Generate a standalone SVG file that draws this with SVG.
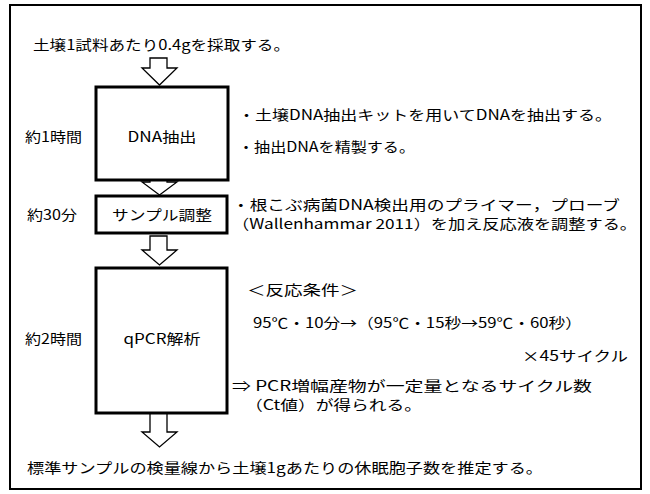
<svg xmlns="http://www.w3.org/2000/svg" width="650" height="494" viewBox="0 0 650 494">
<style>
  text { font-family: "Noto Sans CJK JP", "Liberation Sans", sans-serif; font-size: 14px; fill: #000; }
  .mid { text-anchor: middle; }
  .box { fill: #fff; stroke: #000; stroke-width: 3; }
  .arrow { fill: #fff; stroke: #000; stroke-width: 1.3; stroke-linejoin: miter; }
</style>
<rect width="650" height="494" fill="#fff"/>
<rect x="10" y="5" width="631" height="484" fill="none" stroke="#000" stroke-width="2"/>

<g id="connectors">
  <polygon class="arrow" points="150,58 167,58 167,68 177,68 159.5,85 142,68 150,68"/>
  <polygon class="arrow" points="150,180 167,180 167,182 177,182 159.5,195 142,182 150,182"/>
  <polygon class="arrow" points="150,236 167,236 167,250 177,250 159.5,265 142,250 150,250"/>
  <polygon class="arrow" points="150,413 167,413 167,432 177,432 159.5,447 142,432 150,432"/>
</g>

<g id="start">
  <text x="33" y="50" textLength="257" lengthAdjust="spacingAndGlyphs">土壌1試料あたり0.4gを採取する。</text>
</g>

<g id="dna">
  <rect class="box" x="96" y="87" width="132" height="93"/>
  <text class="mid" x="162" y="142" textLength="69" lengthAdjust="spacingAndGlyphs">DNA抽出</text>
  <text x="25" y="142" textLength="57" lengthAdjust="spacingAndGlyphs">約1時間</text>
  <text x="238" y="120" textLength="374" lengthAdjust="spacingAndGlyphs">・土壌DNA抽出キットを用いてDNAを抽出する。</text>
  <text x="238" y="152" textLength="177" lengthAdjust="spacingAndGlyphs">・抽出DNAを精製する。</text>
</g>

<g id="sample">
  <rect class="box" x="96" y="196" width="131" height="37"/>
  <text class="mid" x="162" y="220" textLength="100" lengthAdjust="spacingAndGlyphs">サンプル調整</text>
  <text x="27" y="220" textLength="50" lengthAdjust="spacingAndGlyphs">約30分</text>
  <text x="232" y="210" textLength="388" lengthAdjust="spacingAndGlyphs">・根こぶ病菌DNA検出用のプライマー，プローブ</text>
  <text x="232" y="229" textLength="405" lengthAdjust="spacingAndGlyphs">（Wallenhammar 2011）を加え反応液を調整する。</text>
</g>

<g id="qpcr">
  <rect class="box" x="96" y="268" width="131" height="145"/>
  <text class="mid" x="162" y="344" textLength="77" lengthAdjust="spacingAndGlyphs">qPCR解析</text>
  <text x="25" y="344" textLength="57" lengthAdjust="spacingAndGlyphs">約2時間</text>
  <text x="247" y="295" textLength="111" lengthAdjust="spacingAndGlyphs">＜反応条件＞</text>
  <text x="253" y="328" textLength="329" lengthAdjust="spacingAndGlyphs">95℃・10分→（95℃・15秒→59℃・60秒）</text>
  <text x="522" y="361" textLength="106" lengthAdjust="spacingAndGlyphs">×45サイクル</text>
  <text x="232" y="391" textLength="360" lengthAdjust="spacingAndGlyphs">⇒ PCR増幅産物が一定量となるサイクル数</text>
  <text x="245" y="410" textLength="177" lengthAdjust="spacingAndGlyphs">（Ct値）が得られる。</text>
</g>

<g id="result">
  <text x="27" y="473" textLength="516" lengthAdjust="spacingAndGlyphs">標準サンプルの検量線から土壌1gあたりの休眠胞子数を推定する。</text>
</g>
</svg>
